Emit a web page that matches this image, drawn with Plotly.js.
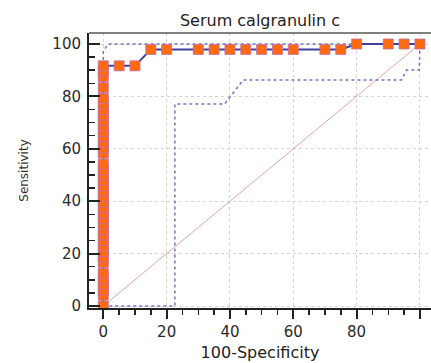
<!DOCTYPE html>
<html><head><meta charset="utf-8">
<script src="https://cdn.plot.ly/plotly-3.0.1.min.js"></script>
<style>html,body{margin:0;padding:0;background:#fff;}#chart{width:431px;height:363px;}</style>
</head><body><div id="chart"></div>
<script>
// ROC curve points (100-Specificity, Sensitivity)
const rocX = [0,0,0,0,0,0,0,0,0,0,0,0,0,0,0,0,0,0,0,0,0,0,0,0,0,0,0,0,0,0,0,0,0,0,0,0,0,0,0,0,
  5,10,15,20,30,35,40,45,50,55,60,70,75,80,90,95,100];
const rocY = [0,4.17,6.25,8.33,10.42,12.5,16.67,18.75,20.83,22.92,25,27.08,29.17,31.25,33.33,35.42,37.5,39.58,41.67,43.75,
  45.83,47.92,50,52.08,54.17,58.33,60.42,62.5,64.58,66.67,68.75,70.83,72.92,75,77.08,79.17,83.33,87.5,89.58,91.67,
  91.67,91.67,97.92,97.92,97.92,97.92,97.92,97.92,97.92,97.92,97.92,97.92,97.92,100,100,100,100];
// Confidence bounds
const upperX = [0,0,1.6,100];
const upperY = [0,97.4,100,100];
const lowerX = [0,22.6,22.6,38.3,44.2,94.2,95.8,99.8,100];
const lowerY = [0,0,77.1,77.1,86.3,86.3,90.1,90.1,100];
// Reference diagonal
const diagX = [0,100];
const diagY = [0,100];
// Ticks
const xTicks = [0,20,40,60,80,100];
const yTicks = [0,20,40,60,80,100];
const xTickText = ['0','20','40','60','80','100'];
const yTickText = ['0','20','40','60','80','100'];

const FONT = 'DejaVu Sans, Arial, sans-serif';

const traces = [
  {x: diagX, y: diagY, mode: 'lines', line: {color: 'rgba(215,150,140,0.85)', width: 1}, hoverinfo: 'skip'},
  {x: upperX, y: upperY, mode: 'lines', line: {color: '#7272cc', width: 1.5, dash: 'dot'}},
  {x: lowerX, y: lowerY, mode: 'lines', line: {color: '#7272cc', width: 1.5, dash: 'dot'}},
  {x: rocX, y: rocY, mode: 'lines+markers',
   line: {color: '#3e3ea6', width: 2},
   marker: {symbol: 'square', size: 10, color: '#ff6a10', line: {color: 'rgba(190,110,170,0.8)', width: 1}}}
];

const layout = {
  width: 431, height: 363,
  margin: {l: 89, r: 0, t: 33, b: 55, pad: 0},
  paper_bgcolor: '#fff', plot_bgcolor: '#fff',
  showlegend: false,
  font: {family: FONT, color: '#222'},
  title: {text: 'Serum calgranulin c', font: {family: FONT, size: 16, color: '#222'},
          x: 0.5, xref: 'paper', xanchor: 'center', y: 1 - 20.5/363, yref: 'container', yanchor: 'middle'},
  xaxis: {
    range: [-4.52, 103.5], tickmode: 'array', tickvals: xTicks, ticktext: xTickText,
    ticks: 'outside', ticklen: 9, tickwidth: 2, tickcolor: '#222',
    showline: true, linecolor: '#222', linewidth: 2,
    showgrid: true, gridcolor: '#d2d2d2', griddash: 'dot', gridwidth: 1, zeroline: false,
    tickfont: {family: FONT, size: 15, color: '#2a2a2a'},
    minor: {tickmode: 'linear', tick0: 0, dtick: 5, ticks: 'outside', ticklen: 5, tickwidth: 1.5, tickcolor: '#222', showgrid: false},
    title: {text: '100-Specificity', font: {family: FONT, size: 16, color: '#222'}, standoff: 7},
    automargin: false, fixedrange: true
  },
  yaxis: {
    range: [-0.76, 104.2], tickmode: 'array', tickvals: yTicks, ticktext: yTickText,
    ticks: 'inside', ticklen: 11, tickwidth: 2, tickcolor: '#222',
    showline: true, linecolor: '#222', linewidth: 2,
    showgrid: true, gridcolor: '#d2d2d2', griddash: 'dot', gridwidth: 1, zeroline: false,
    tickfont: {family: FONT, size: 15, color: '#2a2a2a'}, ticklabelstandoff: 3,
    minor: {tickmode: 'linear', tick0: 0, dtick: 5, ticks: 'inside', ticklen: 6, tickwidth: 1.5, tickcolor: '#222', showgrid: false},
    title: {text: 'Sensitivity', font: {family: FONT, size: 12, color: '#333'}, standoff: 21},
    automargin: false, fixedrange: true
  },
  shapes: [
    {type: 'line', xref: 'paper', yref: 'paper', x0: 0, x1: 1, y0: 1, y1: 1, line: {color: '#808080', width: 2}}
  ]
};

Plotly.newPlot('chart', traces, layout, {staticPlot: true, displayModeBar: false});
</script>
</body></html>
